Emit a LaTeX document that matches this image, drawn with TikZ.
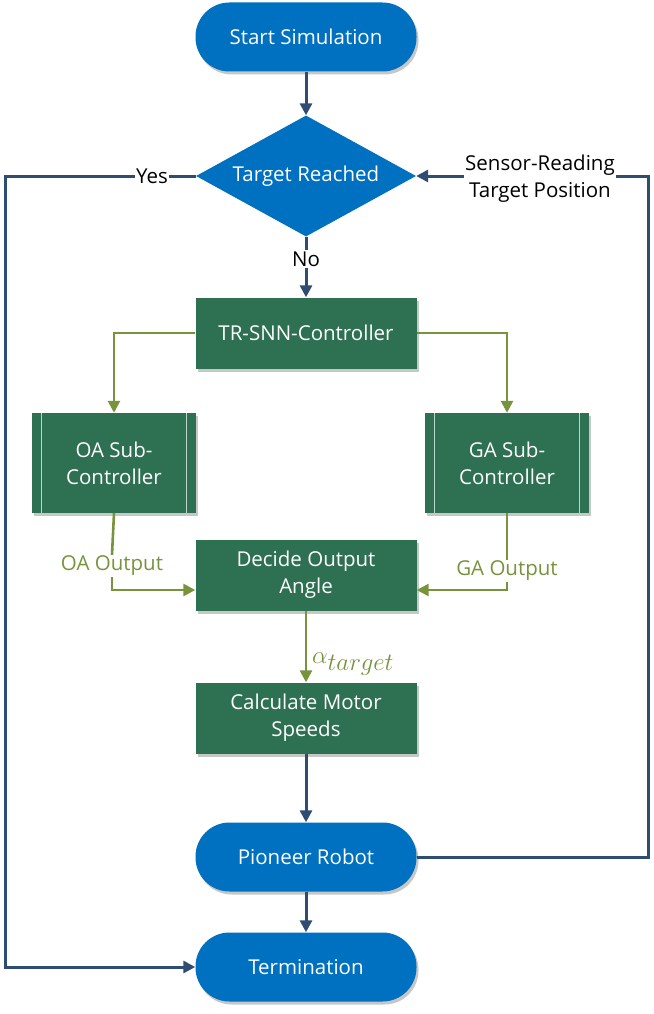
\documentclass[tikz,border=0pt]{standalone}
\usepackage{fontspec}
\setmainfont{Open Sans}
\usetikzlibrary{arrows.meta,shapes.geometric,shadows,calc}
\definecolor{blu}{HTML}{0070C0}
\definecolor{grn}{HTML}{2E7052}
\definecolor{lnk}{HTML}{2F4D73}
\definecolor{olv}{HTML}{77933C}
\begin{document}
\begin{tikzpicture}[x=1pt,y=1pt,
  font=\fontsize{20.5}{27}\selectfont,
  shd/.style={drop shadow={shadow xshift=2pt,shadow yshift=-3pt,fill=black,opacity=0.22}},
  termbox/.style={rectangle,rounded corners=34pt,fill=blu,text=white,minimum width=221pt,minimum height=69pt,inner sep=0pt,shd},
  procbox/.style={rectangle,fill=grn,text=white,minimum width=221pt,minimum height=71pt,align=center,inner sep=0pt,shd},
  subbox/.style={rectangle,fill=grn,text=white,minimum width=164pt,minimum height=100pt,align=center,inner sep=0pt,shd},
  decbox/.style={diamond,fill=blu,text=white,aspect=1.8,minimum width=220pt,minimum height=121pt,inner sep=0pt},
  bline/.style={draw=lnk,line width=3pt},
  gline/.style={draw=olv,line width=2.6pt},
  btip/.style={-{Triangle[length=12pt,width=12pt]}},
  lbl/.style={inner sep=1pt,align=center},
]
\useasboundingbox (0,0) rectangle (653,-1014);
\node[termbox] (start) at (306,-37) {Start Simulation};
\node[decbox] (dia) at (306,-176) {Target Reached};
\node[procbox] (tr) at (306,-333) {TR-SNN-Controller};
\node[subbox] (oa) at (114,-463) {OA Sub-\\Controller};
\node[subbox] (ga) at (507,-463) {GA Sub-\\Controller};
\node[procbox] (dec) at (306,-575) {Decide Output\\Angle};
\node[procbox] (calc) at (306,-718) {Calculate Motor\\Speeds};
\node[termbox] (pio) at (306,-857) {Pioneer Robot};
\node[termbox] (term) at (306,-967) {Termination};
% predefined-process side bars
\foreach \n in {oa,ga}{
  \draw[white!70!grn,line width=0.8pt] ([xshift=10pt]\n.north west) -- ([xshift=10pt]\n.south west);
  \draw[white!70!grn,line width=0.8pt] ([xshift=-10pt]\n.north east) -- ([xshift=-10pt]\n.south east);
}
% labels
\node[lbl] (yes) at (152,-176) {Yes};
\node[lbl] (no) at (306,-259) {No};
\node[lbl] (sens) at (540,-179) {Sensor-Reading\\Target Position};
\node[lbl,text=olv] (oal) at (112,-566) {OA Output};
\node[lbl,text=olv] (gal) at (507,-571) {GA Output};
\node[lbl,text=olv,anchor=west] (alpha) at (311,-664) {\scalebox{1.2}{$\alpha_{\textstyle target}$}};
\coordinate (lc) at (5,-967);
\coordinate (rc) at (648,-176);
% blue connectors
\draw[bline,btip] (start) -- (dia);
\draw[bline] (dia.west) -- (yes.east);
\draw[bline,btip] (yes.west) -| (lc) -- (term.west);
\draw[bline] (dia.south) -- (no.north);
\draw[bline,btip] (no.south) -- (tr.north);
\draw[bline] (pio.east) -| (rc) -- (sens.east |- rc);
\draw[bline,btip] (sens.west |- rc) -- (dia.east);
\draw[bline,btip] (calc) -- (pio);
\draw[bline,btip] (pio) -- (term);
% green connectors
\draw[gline,btip] (tr.west) -| (oa.north);
\draw[gline,btip] (tr.east) -| (ga.north);
\draw[gline] (oa.south) -- (oal.north);
\draw[gline,btip] (oal.south) |- ($(dec.west)+(0,-15)$);
\draw[gline] (ga.south) -- (gal.north);
\draw[gline,btip] (gal.south) |- ($(dec.east)+(0,-15)$);
\draw[gline,btip] (dec) -- (calc);
\end{tikzpicture}
\end{document}
